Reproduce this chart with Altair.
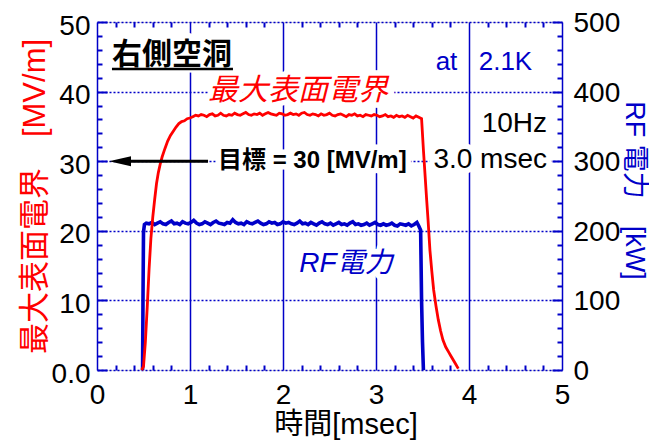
import altair as alt
import pandas as pd

BLUE = "#0000C8"
RED = "#FF0000"
FONT = "Liberation Sans, Noto Sans CJK JP"

# ---- traces ----
red_t = [0.48, 0.50, 0.52, 0.54, 0.56, 0.58, 0.60, 0.62, 0.64, 0.66,
         0.68, 0.70, 0.73, 0.76, 0.79, 0.82, 0.85, 0.88, 0.91, 0.94,
         0.97, 1.00,
         1.03, 1.06, 1.09, 1.12, 1.15, 1.18, 1.21, 1.24, 1.27, 1.30,
         1.33, 1.36, 1.39, 1.42, 1.45, 1.48, 1.51, 1.54, 1.57, 1.60,
         1.63, 1.66, 1.69, 1.72, 1.75, 1.78, 1.81, 1.84, 1.87, 1.90,
         1.93, 1.96, 1.99, 2.02, 2.05, 2.08, 2.11, 2.14, 2.17, 2.20,
         2.23, 2.26, 2.29, 2.32, 2.35, 2.38, 2.41, 2.44, 2.47, 2.50,
         2.53, 2.56, 2.59, 2.62, 2.65, 2.68, 2.71, 2.74, 2.77, 2.80,
         2.83, 2.86, 2.89, 2.92, 2.95, 2.98, 3.01, 3.04, 3.07, 3.10,
         3.13, 3.16, 3.19, 3.22, 3.25, 3.28, 3.31, 3.34, 3.37, 3.40,
         3.43, 3.46, 3.49,
         3.51, 3.53, 3.545, 3.56, 3.58, 3.60, 3.62, 3.645, 3.67, 3.695,
         3.72, 3.75, 3.78, 3.81, 3.85, 3.885]
red_e = [0.0, 0.5, 4.0, 9.0, 14.5, 19.0, 22.0, 24.5, 26.8, 28.4,
         29.6, 30.6, 31.8, 32.9, 33.7, 34.3, 34.9, 35.4, 35.7, 35.8,
         36.1, 36.2,
         36.4, 36.6, 36.5, 36.7, 36.6, 36.4, 36.7, 36.8, 36.5, 36.6,
         36.9, 36.6, 36.5, 36.7, 36.6, 36.9, 36.7, 36.6, 36.8, 37.0,
         36.7, 36.6, 36.8, 36.7, 36.9, 36.6, 36.8, 37.0, 36.8, 36.7,
         36.6, 36.9, 36.8, 36.6, 36.7, 36.9, 36.7, 36.8, 36.6, 36.9,
         37.0, 36.7, 36.6, 36.8, 36.7, 36.5, 36.8, 36.6, 36.7, 36.9,
         36.6, 36.5, 36.7, 36.8, 36.6, 36.4, 36.7, 36.6, 36.8, 36.5,
         36.6, 36.4, 36.7, 36.6, 36.5, 36.7, 36.6, 36.4, 36.5, 36.7,
         36.4, 36.5, 36.3, 36.6, 36.4, 36.5, 36.3, 36.6, 36.4, 36.2,
         36.5, 36.3, 36.1,
         31.6, 27.5, 24.4, 21.5, 17.2, 14.2, 11.5, 9.2, 7.2, 5.6,
         4.3, 3.3, 2.6, 1.9, 1.0, 0.2]

blue_t = [0.49, 0.495, 0.50, 0.51, 0.53, 0.56, 0.59, 0.62, 0.65, 0.68,
          0.71, 0.74, 0.77, 0.80, 0.83, 0.86, 0.89, 0.92, 0.95, 0.98,
          1.01, 1.04, 1.07, 1.10, 1.13, 1.16, 1.19, 1.22, 1.25, 1.28,
          1.31, 1.34, 1.37, 1.40, 1.43, 1.46, 1.49, 1.52, 1.55, 1.58,
          1.61, 1.64, 1.67, 1.70, 1.73, 1.76, 1.79, 1.82, 1.85, 1.88,
          1.91, 1.94, 1.97, 2.00, 2.03, 2.06, 2.09, 2.12, 2.15, 2.18,
          2.21, 2.24, 2.27, 2.30, 2.33, 2.36, 2.39, 2.42, 2.45, 2.48,
          2.51, 2.54, 2.57, 2.60, 2.63, 2.66, 2.69, 2.72, 2.75, 2.78,
          2.81, 2.84, 2.87, 2.90, 2.93, 2.96, 2.99, 3.02, 3.05, 3.08,
          3.11, 3.14, 3.17, 3.20, 3.23, 3.26, 3.29, 3.32, 3.35, 3.38,
          3.41, 3.44, 3.46, 3.48, 3.49, 3.50, 3.51]
blue_p = [0, 110, 198, 209, 211, 210, 212, 209, 211, 213,
          210, 209, 212, 214, 210, 211, 209, 213, 211, 210,
          212, 215, 211, 209, 210, 213, 211, 209, 212, 214,
          211, 210, 209, 212, 211, 216, 212, 210, 211, 209,
          213, 211, 210, 212, 214, 211, 209, 210, 213, 211,
          212, 209, 210, 213, 211, 212, 210, 209, 211, 214,
          210, 211, 209, 212, 210, 208, 211, 213, 210, 209,
          211, 208, 210, 212, 209, 210, 208, 211, 213, 209,
          210, 208, 209, 211, 208, 210, 212, 209, 208, 210,
          208, 209, 211, 208, 207, 210, 209, 208, 210, 207,
          209, 212, 207, 201, 100, 40, 0]

# ---- axes ----
x_major = [0, 1, 2, 3, 4, 5]
x_minor = [0.2, 0.4, 0.6, 0.8, 1.2, 1.4, 1.6, 1.8, 2.2, 2.4, 2.6, 2.8,
           3.2, 3.4, 3.6, 3.8, 4.2, 4.4, 4.6, 4.8]
e_major = [0, 10, 20, 30, 40, 50]
e_minor = [2, 4, 6, 8, 12, 14, 16, 18, 22, 24, 26, 28, 32, 34, 36, 38,
           42, 44, 46, 48]
p_major = [0, 100, 200, 300, 400, 500]
p_minor = [20, 40, 60, 80, 120, 140, 160, 180, 220, 240, 260, 280,
           320, 340, 360, 380, 420, 440, 460, 480]

# ---- annotations ----
title_txt = ["右側空洞"]
title_x = [0.161]
title_y = [43.97]
underline_x = [0.161]
underline_x2 = [1.462]
underline_y = [43.25]

efield_txt = ["最大表面電界"]
efield_x = [1.194]
efield_y = [38.8]

temp_txt = ["at", "2.1K"]
temp_x = [3.758, 4.392]
temp_y = [43.1, 43.1]

cond_txt = ["10Hz", "3.0 msec"]
cond_x = [4.839, 4.839]
cond_y = [34.2, 29.0]

goal_txt = ["目標 = 30 [MV/m]"]
goal_x = [1.301]
goal_y = [29.0]
arrow_x = [0.333]
arrow_x2 = [1.194]
arrow_y = [30.0]
head_x = [0.247]
head_y = [30.0]

rf_txt = ["RF電力"]
rf_x = [2.677]
rf_y = [14.1]

xs = alt.Scale(domain=[0, 5], nice=False, zero=False)
es = alt.Scale(domain=[0, 50], nice=False, zero=False)
ps = alt.Scale(domain=[0, 500], nice=False, zero=False)

red_df = pd.DataFrame({"t": red_t, "v": red_e})
blue_df = pd.DataFrame({"t": blue_t, "v": blue_p})

blue_line = alt.Chart(blue_df).mark_line(color=BLUE, strokeWidth=3.6).encode(
    x=alt.X("t:Q", scale=xs, axis=None),
    y=alt.Y("v:Q", scale=ps, axis=alt.Axis(
        orient="right", values=p_major, ticks=False, tickSize=0, domain=False,
        grid=False, labelFont=FONT, labelFontSize=28, labelColor="black",
        labelPadding=11, labelOffset=1.5, labelFlush=False, labelOverlap=False,
        title="RF 電力　[kW]", titleFont=FONT, titleFontSize=27,
        titleFontWeight="normal", titleColor=BLUE, titleAngle=90,
        titleX=63, titleY=168, titleBaseline="alphabetic", titleAlign="center")),
)

red_line = alt.Chart(red_df).mark_line(color=RED, strokeWidth=2.8).encode(
    x=alt.X("t:Q", scale=xs, axis=alt.Axis(
        orient="bottom", values=x_major, format="d", ticks=False, tickSize=0,
        domain=False, grid=True, gridColor=BLUE, gridWidth=1.5, gridOpacity=1,
        labelFont=FONT, labelFontSize=28, labelColor="black", labelPadding=11,
        labelFlush=False, labelOverlap=False,
        title="時間[msec]", titleFont=FONT, titleFontSize=29,
        titleFontWeight="normal", titleColor="black", titleX=248.5, titleY=63,
        titleBaseline="alphabetic", titleAlign="center")),
    y=alt.Y("v:Q", scale=es, axis=alt.Axis(
        orient="left", values=e_major, ticks=False, tickSize=0, domain=False,
        labelExpr="datum.value == 0 ? '0.0' : datum.label",
        grid=True, gridColor=BLUE, gridWidth=1.5, gridDash=[2, 2], gridOpacity=1,
        labelFont=FONT, labelFontSize=28, labelColor="black", labelPadding=7,
        labelOffset=4, labelFlush=False, labelOverlap=False,
        title="最大表面電界　[MV/m]", titleFont=FONT, titleFontSize=31,
        titleFontWeight="normal", titleColor=RED, titleAngle=-90,
        titleX=-53, titleY=174, titleBaseline="alphabetic", titleAlign="center")),
)


def tick_axis(orient, values, length):
    return alt.Axis(orient=orient, values=values, offset=-length, tickSize=length,
                    tickWidth=2, tickColor=BLUE, ticks=True, labels=False,
                    domain=False, grid=False, title=None, zindex=1)


def tick_layer(x_axis, y_axis, yscale):
    return alt.Chart(red_df).mark_line(opacity=0).encode(
        x=alt.X("t:Q", scale=xs, axis=x_axis),
        y=alt.Y("v:Q", scale=yscale, axis=y_axis),
    )


ticks_a = tick_layer(tick_axis("bottom", x_minor, 5), tick_axis("left", e_minor, 5), es)
ticks_b = tick_layer(tick_axis("top", x_minor, 5), tick_axis("right", p_minor, 5), ps)
ticks_c = tick_layer(None, tick_axis("left", e_major, 10), es)
ticks_d = tick_layer(None, tick_axis("right", p_major, 10), ps)


def text_layer(txt, xv, yv, color, size, align, weight="normal", style="normal"):
    df = pd.DataFrame({"t": xv, "v": yv, "s": txt})
    enc = dict(
        x=alt.X("t:Q", scale=xs, axis=None),
        y=alt.Y("v:Q", scale=es, axis=None),
        text="s:N",
    )
    common = dict(font=FONT, fontSize=size, align=align, baseline="alphabetic",
                  fontWeight=weight, fontStyle=style)
    halo = alt.Chart(df).mark_text(color="white", stroke="white", strokeWidth=11,
                                   strokeJoin="round", **common).encode(**enc)
    front = alt.Chart(df).mark_text(color=color, **common).encode(**enc)
    return halo, front


t_title = text_layer(title_txt, title_x, title_y, "black", 30, "left", weight="bold")
t_efield = text_layer(efield_txt, efield_x, efield_y, RED, 30, "left", style="italic")
t_temp = text_layer(temp_txt, temp_x, temp_y, BLUE, 26, "center")
t_cond = text_layer(cond_txt, cond_x, cond_y, "black", 28, "right")
t_goal = text_layer(goal_txt, goal_x, goal_y, "black", 24, "left", weight="bold")
t_rf = text_layer(rf_txt, rf_x, rf_y, BLUE, 28, "center", style="italic")

underline = alt.Chart(pd.DataFrame({"t": underline_x, "t2": underline_x2, "v": underline_y})).mark_rule(
    color="black", strokeWidth=2.5).encode(
    x=alt.X("t:Q", scale=xs, axis=None), x2="t2:Q",
    y=alt.Y("v:Q", scale=es, axis=None))

arrow = alt.Chart(pd.DataFrame({"t": arrow_x, "t2": arrow_x2, "v": arrow_y})).mark_rule(
    color="black", strokeWidth=3).encode(
    x=alt.X("t:Q", scale=xs, axis=None), x2="t2:Q",
    y=alt.Y("v:Q", scale=es, axis=None))

head = alt.Chart(pd.DataFrame({"t": head_x, "v": head_y})).mark_point(
    shape="M-1,0L1,-0.45L1,0.45Z", filled=True, color="black", opacity=1,
    size=484, strokeWidth=0).encode(
    x=alt.X("t:Q", scale=xs, axis=None),
    y=alt.Y("v:Q", scale=es, axis=None))

halos = [t[0] for t in (t_title, t_efield, t_temp, t_cond, t_goal, t_rf)]
fronts = [t[1] for t in (t_title, t_efield, t_temp, t_cond, t_goal, t_rf)]

chart = alt.layer(
    *halos, blue_line, red_line, ticks_a, ticks_b, ticks_c, ticks_d,
    underline, arrow, head, *fronts,
).resolve_scale(y="independent").resolve_axis(x="independent", y="independent").properties(
    width=465, height=348,
    autosize=alt.AutoSizeParams(type="none"),
    padding={"left": 89, "top": 14, "right": 87, "bottom": 71},
).configure_view(stroke=BLUE, strokeWidth=4).configure(background="white")

chart.save("out.html", embed_options={"renderer": "svg", "actions": False})
